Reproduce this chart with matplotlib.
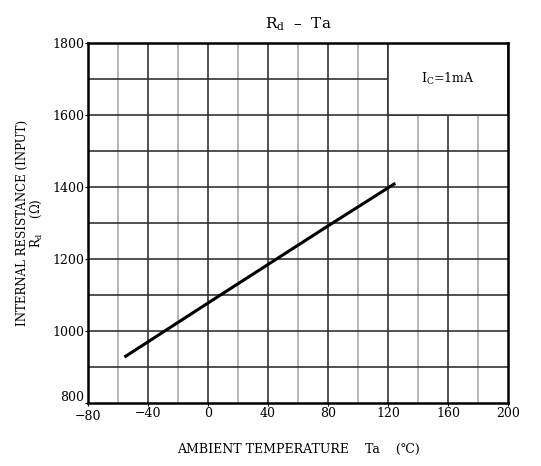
import matplotlib.pyplot as plt
import matplotlib.transforms as mtransforms
from matplotlib.patches import Rectangle

plt.rcParams["font.family"] = "DejaVu Serif"
plt.rcParams["mathtext.fontset"] = "dejavuserif"

# Rd vs Ta
ta = [-55, 0, 40, 80, 124]
rd = [930, 1078, 1185, 1292, 1408]

xticks = [-80, -40, 0, 40, 80, 120, 160, 200]
xlabels = ["\u221280", "\u221240", "0", "40", "80", "120", "160", "200"]
yticks = [800, 1000, 1200, 1400, 1600, 1800]

fig = plt.figure(figsize=(5.41, 4.66), dpi=100)
ax = fig.add_axes([0.163, 0.135, 0.776, 0.773])
ax.set_xlim(-80, 200)
ax.set_ylim(800, 1800)

# grid: dark at every 40, light in between, horizontal every 100
for x in range(-60, 200, 20):
    c = "#333333" if x % 40 == 0 else "#aaaaaa"
    ax.axvline(x, color=c, lw=1.2, zorder=1)
for y in range(900, 1800, 100):
    ax.axhline(y, color="#333333", lw=1.2, zorder=1)

# condition box (no grid inside)
ax.add_patch(Rectangle((120, 1600), 80, 200, facecolor="white",
                       edgecolor="#333333", lw=1.2, zorder=2))
ax.text(160, 1700, "I$_\\mathregular{C}$=1mA", ha="center", va="center",
        fontsize=9, zorder=3)

ax.plot(ta, rd, color="black", lw=2.2, zorder=4)

ax.set_xticks(xticks)
ax.set_xticklabels(xlabels, fontsize=9)
ax.set_yticks(yticks)
ax.set_yticklabels([str(v) for v in yticks], fontsize=9)
ax.tick_params(length=2, pad=1)
for s in ax.spines.values():
    s.set_linewidth(1.8)
    s.set_zorder(5)

# "800" sits a bit above the corner so it clears "-80"
lab800 = ax.get_yticklabels()[0]
lab800.set_transform(lab800.get_transform() +
                     mtransforms.ScaledTranslation(0, 5 / 72, fig.dpi_scale_trans))
labm80 = ax.get_xticklabels()[0]
labm80.set_transform(labm80.get_transform() +
                     mtransforms.ScaledTranslation(0, -2 / 72, fig.dpi_scale_trans))

ax.set_title("R$_\\mathregular{d}$  \u2013  Ta", fontsize=11, pad=10)
ax.set_xlabel("AMBIENT TEMPERATURE    Ta    (\u2103)", fontsize=9, labelpad=14)
ax.set_ylabel("INTERNAL RESISTANCE (INPUT)\nR$_\\mathregular{d}$    (\u03a9)",
              fontsize=8.5, labelpad=6, linespacing=1.0)

plt.savefig("out.png", dpi=100)
